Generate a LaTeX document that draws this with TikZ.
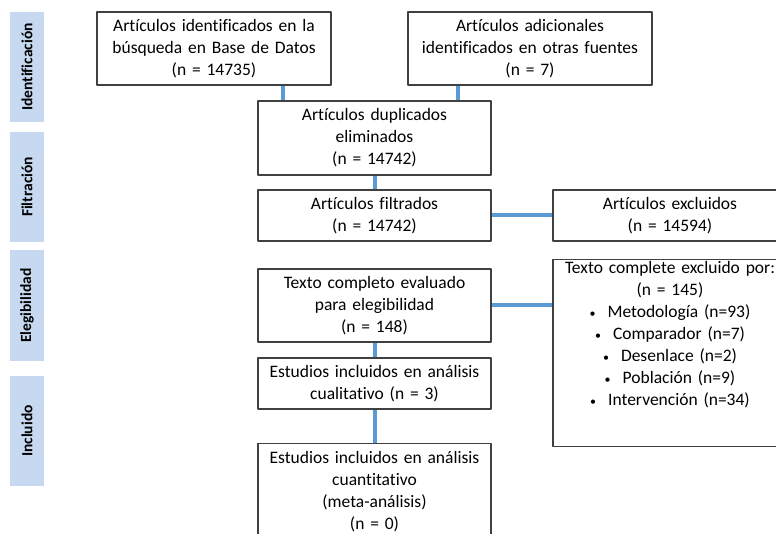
\documentclass[tikz,border=0pt]{standalone}
\usepackage{fontspec}
\setmainfont[Ligatures=NoCommon]{Carlito}
\usetikzlibrary{positioning}
\definecolor{linkblue}{HTML}{5B9BD5}
\definecolor{sidefill}{HTML}{C6D9F0}
\definecolor{boxline}{HTML}{404040}
\newcommand{\bul}{{\fontsize{12}{12}\selectfont\textbullet}\hspace{12pt}}

\begin{document}
\begin{tikzpicture}[x=1pt,y=-1pt,line join=round,
  box/.style={draw=boxline,line width=1.3pt,fill=white,align=center,inner sep=3pt,
    font=\fontsize{17.5}{22}\selectfont},
  side/.style={fill=sidefill,rotate=90,minimum width=110pt,minimum height=34pt,
    inner sep=0pt,font=\bfseries\fontsize{15.5}{16}\selectfont},
  link/.style={linkblue,line width=4pt}]
  \useasboundingbox (0,0) rectangle (776,534);
  \clip (0,0) rectangle (776,534);
  % phases
  \node[side] (phId) at (27,67) {Identificación};
  \node[side] (phFilt) at (27,187) {Filtración};
  \node[side] (phEleg) at (27,305.5) {Elegibilidad};
  \node[side] (phIncl) at (27,431) {Incluido};
  % boxes
  \node[box,text width=228pt,minimum height=73pt] (srcDb) at (214,48.5)
    {Artículos identificados en la\\búsqueda en Base de Datos\\(n = 14735)};
  \node[box,text width=238pt,minimum height=73pt] (srcOther) at (530,48.5)
    {Artículos adicionales\\identificados en otras fuentes\\(n = 7)};
  \node[box,text width=227pt,minimum height=74pt] (dup) at (374.5,138)
    {Artículos duplicados\\eliminados\\(n = 14742)};
  \node[box,text width=227pt,minimum height=51pt] (filt) at (374.5,215.5)
    {Artículos filtrados\\(n = 14742)};
  \node[box,text width=228pt,minimum height=51pt] (excl) at (670,215.5)
    {Artículos excluidos\\(n = 14594)};
  \node[box,text width=227pt,minimum height=73pt] (full) at (374.5,305.5)
    {Texto completo evaluado\\para elegibilidad\\(n = 148)};
  \node[box,text width=228pt,text height=11pt,text depth=170pt,anchor=north] (fullExcl) at (670,259)
    {Texto complete excluido por:\\(n = 145)\\\bul Metodología (n=93)\\\bul Comparador (n=7)\\
     \bul Desenlace (n=2)\\\bul Población (n=9)\\\bul Intervención (n=34)};
  \node[box,text width=227pt,minimum height=51pt] (qual) at (374.5,383.5)
    {Estudios incluidos en análisis\\cualitativo (n = 3)};
  \node[box,text width=227pt,text height=17pt,text depth=100pt,anchor=north] (quant) at (374.5,443)
    {Estudios incluidos en análisis\\cuantitativo\\(meta-análisis)\\(n = 0)};
  % connectors
  \coordinate (jDb) at (283,0);
  \coordinate (jOther) at (458,0);
  \draw[link] (jDb |- srcDb.south) -- (jDb |- dup.north);
  \draw[link] (jOther |- srcOther.south) -- (jOther |- dup.north);
  \draw[link] (dup) -- (filt);
  \draw[link] (filt) -- (excl);
  \draw[link] (full) -- (full -| fullExcl.west);
  \draw[link] (full) -- (qual);
  \draw[link] (qual) -- (quant.north);
\end{tikzpicture}
\end{document}
